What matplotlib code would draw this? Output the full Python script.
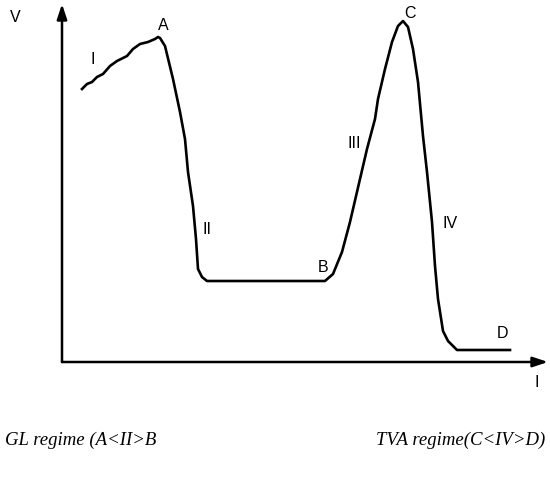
import matplotlib
matplotlib.use("Agg")
import matplotlib.pyplot as plt

# I-V characteristic, arbitrary units
current = [20, 25, 30, 35, 41, 48, 55, 65, 71, 78, 86, 93, 96, 98, 103, 111, 118,
           123, 126, 131, 134, 136, 140, 145, 263, 271, 280, 288, 298, 305, 313,
           316, 323, 330, 336, 341, 346, 351, 356, 361, 365, 370, 373, 376, 381,
           386, 395, 448]
voltage = [273, 278, 280, 285, 288, 296, 301, 306, 313, 318, 320, 323, 325, 324,
           316, 283, 250, 223, 190, 156, 123, 93, 85, 81, 81, 88, 110, 140, 183,
           213, 243, 263, 293, 320, 336, 341, 335, 313, 280, 226, 190, 140, 96,
           63, 31, 21, 12, 12]

point_labels = ["A", "I", "II", "B", "III", "C", "IV", "D"]
label_x = [101, 31, 145, 261, 292, 348, 388, 441]
label_y = [338, 303, 134, 95, 220, 350, 139, 30]

W, H = 550, 485
fig = plt.figure(figsize=(5.5, 4.85), dpi=100)
ax = fig.add_axes([62 / W, (H - 363) / H, 486 / W, 358 / H])
ax.set_xlim(0, 486)
ax.set_ylim(0, 358)
ax.axis("off")

ax.plot(current, voltage, color="black", lw=1.9, solid_joinstyle="round")

# axes drawn as arrows
arrow = dict(arrowstyle="-|>,head_length=0.9,head_width=0.3", color="black", lw=1.8,
             shrinkA=0, shrinkB=0)
ax.annotate("", xy=(0, 1), xytext=(0, 0), xycoords="axes fraction", arrowprops=arrow)
ax.annotate("", xy=(1, 0), xytext=(0, 0), xycoords="axes fraction", arrowprops=arrow)

for t, x, y in zip(point_labels, label_x, label_y):
    ax.text(x, y, t, fontsize=11.5, family="Liberation Sans", ha="center", va="center")
ax.text(-47, 345, "V", fontsize=11.5, family="Liberation Sans", ha="center", va="center",
        clip_on=False)
ax.text(475, -20, "I", fontsize=11.5, family="Liberation Sans", ha="center", va="center",
        clip_on=False)

fig.text(5 / W, 1 - 440 / H, "GL regime (A<II>B", fontsize=13.5, family="Liberation Serif",
         style="italic", ha="left", va="center")
fig.text(545 / W, 1 - 440 / H, "TVA regime(C<IV>D)", fontsize=13.5, family="Liberation Serif",
         style="italic", ha="right", va="center")

fig.savefig("out.png", dpi=100)
